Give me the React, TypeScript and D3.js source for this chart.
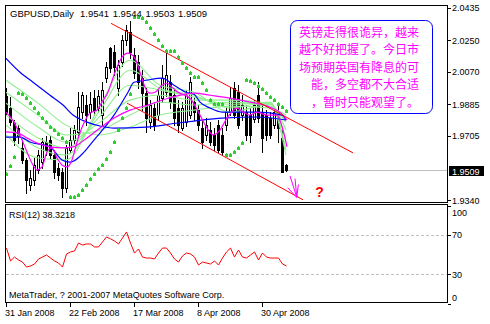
import React from "react";
import * as d3 from "d3";

// ---------- data ----------
const title = "GBPUSD,Daily";
const titleValues = "1.9541 1.9544 1.9503 1.9509";
const dateLabels = ["31 Jan 2008", "22 Feb 2008", "17 Mar 2008", "8 Apr 2008", "30 Apr 2008"];
const dateIdx = [0, 16, 32, 48, 64];
const priceTicks = [2.0435, 2.025, 2.007, 1.9885, 1.9705, 1.934];
const bidPrice = 1.9509;
const rsiTicks = [100, 70, 30, 0];
const rsiLevels = [70, 30];

const opens = [1.9930, 1.9862, 1.9783, 1.9749, 1.9635, 1.9567, 1.9425, 1.9454, 1.9510, 1.9556, 1.9669, 1.9680, 1.9595, 1.9522, 1.9499, 1.9408, 1.9624, 1.9680, 1.9726, 1.9839, 1.9879, 1.9839, 1.9918, 1.9862, 1.9822, 2.0032, 2.0202, 2.0180, 1.9975, 2.0123, 2.0248, 2.0293, 2.0163, 2.0123, 2.0032, 1.9947, 1.9783, 1.9862, 1.9822, 1.9918, 1.9953, 2.0010, 1.9936, 1.9862, 1.9749, 1.9783, 1.9822, 1.9896, 1.9851, 1.9749, 1.9709, 1.9737, 1.9709, 1.9766, 1.9709, 1.9766, 1.9839, 1.9975, 1.9953, 1.9822, 1.9839, 1.9822, 1.9799, 1.9936, 1.9839, 1.9822, 1.9805, 1.9766, 1.9839, 1.9692, 1.9541];
const highs = [1.9975, 1.9924, 1.9794, 1.9766, 1.9680, 1.9578, 1.9510, 1.9578, 1.9624, 1.9692, 1.9703, 1.9703, 1.9624, 1.9550, 1.9522, 1.9652, 1.9749, 1.9766, 1.9953, 1.9953, 1.9936, 1.9953, 1.9964, 1.9964, 2.0010, 2.0123, 2.0208, 2.0219, 2.0134, 2.0276, 2.0333, 2.0361, 2.0202, 2.0163, 2.0078, 1.9975, 1.9907, 1.9896, 1.9964, 2.0106, 2.0180, 2.0049, 1.9964, 1.9907, 1.9896, 1.9964, 2.0038, 1.9918, 1.9879, 1.9794, 1.9805, 1.9783, 1.9749, 1.9794, 1.9749, 1.9862, 1.9981, 2.0010, 1.9992, 1.9936, 1.9879, 1.9862, 1.9907, 2.0010, 1.9879, 1.9851, 1.9839, 1.9862, 1.9879, 1.9737, 1.9544];
const lows = [1.9822, 1.9766, 1.9652, 1.9663, 1.9550, 1.9380, 1.9397, 1.9425, 1.9493, 1.9522, 1.9595, 1.9578, 1.9465, 1.9454, 1.9357, 1.9385, 1.9612, 1.9663, 1.9709, 1.9805, 1.9766, 1.9805, 1.9822, 1.9839, 1.9766, 2.0010, 2.0066, 2.0049, 1.9936, 2.0100, 2.0219, 2.0146, 2.0032, 1.9975, 1.9851, 1.9726, 1.9749, 1.9737, 1.9794, 1.9896, 1.9930, 1.9862, 1.9766, 1.9726, 1.9737, 1.9760, 1.9805, 1.9794, 1.9737, 1.9635, 1.9680, 1.9652, 1.9624, 1.9612, 1.9595, 1.9737, 1.9822, 1.9805, 1.9749, 1.9794, 1.9680, 1.9669, 1.9783, 1.9783, 1.9612, 1.9680, 1.9692, 1.9749, 1.9669, 1.9499, 1.9503];
const closes = [1.9839, 1.9783, 1.9680, 1.9703, 1.9567, 1.9454, 1.9465, 1.9539, 1.9595, 1.9669, 1.9624, 1.9595, 1.9499, 1.9482, 1.9408, 1.9635, 1.9680, 1.9737, 1.9868, 1.9936, 1.9822, 1.9885, 1.9851, 1.9930, 1.9964, 2.0095, 2.0089, 2.0095, 2.0106, 2.0248, 2.0305, 2.0180, 2.0061, 2.0010, 1.9947, 1.9805, 1.9879, 1.9766, 1.9936, 2.0032, 2.0049, 1.9896, 1.9805, 1.9766, 1.9862, 1.9936, 2.0010, 1.9839, 1.9766, 1.9669, 1.9766, 1.9669, 1.9652, 1.9624, 1.9612, 1.9839, 1.9918, 1.9822, 1.9766, 1.9879, 1.9709, 1.9709, 1.9879, 1.9805, 1.9692, 1.9709, 1.9709, 1.9839, 1.9749, 1.9499, 1.9509];

const sar = [1.9488, 1.9534, 1.9585, 1.9948, 1.9942, 1.9919, 1.9891, 1.9863, 1.9834, 1.9806, 1.9783, 1.9755, 1.9738, 1.9715, 1.9693, 1.9670, 1.9358, 1.9358, 1.9369, 1.9398, 1.9426, 1.9460, 1.9488, 1.9517, 1.9539, 1.9573, 1.9613, 1.9670, 1.9738, 1.9806, 1.9863, 1.9942, 2.0379, 2.0379, 2.0373, 2.0350, 2.0316, 2.0282, 2.0248, 2.0214, 2.0186, 2.0186, 2.0186, 2.0152, 2.0118, 2.0090, 2.0061, 2.0038, 2.0038, 2.0004, 1.9965, 1.9908, 1.9885, 1.9885, 1.9885, 1.9596, 1.9596, 1.9613, 1.9636, 1.9664, 2.0021, 2.0016, 2.0004, 1.9987, 1.9970, 1.9948, 1.9925, 1.9908, 1.9885, 1.9868, 1.9846];

const rsi = [56.6, 43.4, 47.4, 44.4, 42.3, 37.2, 38.3, 40.3, 45.4, 47.4, 49.5, 46.4, 43.4, 41.3, 37.2, 50.5, 52.6, 53.6, 61.7, 59.7, 60.7, 60.7, 57.7, 57.7, 62.8, 67.9, 66.0, 63.8, 60.7, 66.8, 73.0, 61.7, 51.5, 55.6, 47.4, 46.4, 46.4, 45.4, 51.5, 56.6, 56.6, 51.5, 45.4, 42.3, 48.5, 51.5, 50.5, 47.4, 39.3, 42.3, 41.3, 40.3, 43.4, 39.3, 46.4, 52.6, 56.6, 47.4, 54.6, 47.4, 46.4, 49.5, 52.6, 44.4, 51.5, 47.4, 46.4, 46.4, 46.4, 40.3, 38.3];

type Pt = [number, number];
const blueSlow: Pt[] = [[0, 2.0146], [3.5, 2.0067], [6.75, 2.0010], [11, 1.9936], [14.25, 1.9880], [16.75, 1.9823], [20.25, 1.9783], [23.5, 1.9761], [27, 1.9749], [35, 1.9755], [43, 1.9778], [47, 1.9789], [54, 1.9806], [63, 1.9812], [70, 1.9795]];
const blueMid: Pt[] = [[0, 1.9698], [3.5, 1.9698], [6, 1.9670], [11, 1.9642], [14, 1.9568], [16, 1.9556], [20, 1.9625], [22, 1.9681], [23.5, 1.9721], [27, 1.9823], [30.5, 1.9953], [32, 2.0010], [35, 2.0021], [39, 2.0033], [42, 1.9993], [45, 1.9953], [47, 1.9942], [48.5, 1.9897], [51, 1.9863], [54, 1.9840], [63, 1.9840], [69, 1.9823], [70, 1.9795]];
const magentaFast: Pt[] = [[0, 1.9840], [2, 1.9783], [3.5, 1.9710], [5.25, 1.9613], [6.75, 1.9539], [7.75, 1.9511], [9, 1.9528], [10.25, 1.9613], [11.5, 1.9636], [12.75, 1.9579], [14, 1.9539], [15.25, 1.9528], [16.5, 1.9568], [17.75, 1.9670], [19.25, 1.9766], [21, 1.9834], [22.75, 1.9851], [24, 1.9897], [25.5, 1.9953], [27.25, 2.0067], [29, 2.0152], [30.5, 2.0175], [32.25, 2.0146], [33.5, 2.0067], [34.75, 1.9982], [36, 1.9948], [37.25, 1.9953], [39, 1.9993], [40.25, 2.0004], [41.5, 1.9982], [43, 1.9953], [44.75, 1.9936], [46, 1.9919], [48.5, 1.9823], [50.25, 1.9749], [51.75, 1.9710], [53.5, 1.9738], [55.25, 1.9806], [57.75, 1.9863], [59.25, 1.9840], [61, 1.9823], [62.75, 1.9840], [65.25, 1.9823], [67.75, 1.9823], [69.25, 1.9738], [70.25, 1.9642]];
const magentaSlow: Pt[] = [[0, 1.9727], [3, 1.9721], [5.25, 1.9693], [7.75, 1.9664], [11, 1.9642], [14.25, 1.9636], [16.75, 1.9642], [20.25, 1.9693], [23.5, 1.9749], [27, 1.9806], [31, 1.9851], [35.5, 1.9880], [40.5, 1.9919], [47.25, 1.9948], [51, 1.9936], [56, 1.9919], [61, 1.9897], [66, 1.9868], [69.25, 1.9823], [70.25, 1.9795]];
const green1: Pt[] = [[0, 2.0021], [8, 1.9891], [15, 1.9766], [23.5, 1.9710], [31, 1.9755], [38.5, 1.9823], [47, 1.9851], [56, 1.9874], [66, 1.9863], [70, 1.9823]];
const green2: Pt[] = [[0, 1.9953], [8, 1.9823], [15, 1.9710], [23.5, 1.9738], [31, 1.9823], [38.5, 1.9897], [47, 1.9880], [56, 1.9897], [66, 1.9874], [70, 1.9783]];
const green3: Pt[] = [[0, 1.9891], [8, 1.9755], [15, 1.9670], [23.5, 1.9783], [31, 1.9908], [38.5, 1.9936], [47, 1.9908], [56, 1.9908], [66, 1.9885], [70, 1.9738]];
const green4: Pt[] = [[0, 1.9823], [8, 1.9693], [15, 1.9636], [23.5, 1.9817], [31, 1.9993], [38.5, 1.9965], [47, 1.9925], [56, 1.9885], [66, 1.9891], [70, 1.9681]];
const green5: Pt[] = [[0, 1.9766], [8, 1.9636], [15, 1.9596], [23.5, 1.9851], [31, 2.0078], [38.5, 1.9976], [47, 1.9936], [56, 1.9863], [66, 1.9897], [70, 1.9625]];
const green6: Pt[] = [[0, 1.9710], [8, 1.9579], [15, 1.9568], [23.5, 1.9880], [31, 2.0135], [38.5, 1.9993], [47, 1.9953], [56, 1.9840], [66, 1.9885], [70, 1.9596]];

const channelUpper: Pt[] = [[26.25, 2.0345], [86.75, 1.9608]];
const channelLower: Pt[] = [[30.25, 1.9891], [74.25, 1.9341]];
const arrowTip: Pt = [72.7, 1.9355];
const arrowTails: Pt[] = [[71, 1.9477], [72.25, 1.9462], [73.1, 1.9428], [70.4, 1.9410]];
const questionAt: Pt = [77.3, 1.9358];

const noteLines = ["英镑走得很诡异，越来", "越不好把握了。今日市", "场预期英国有降息的可", "能，多空都不大合适", "，暂时只能观望了。"];
const rsiTitle = "RSI(12) 38.3218";
const copyright = "MetaTrader, ? 2001-2007 MetaQuotes Software Corp.";

// ---------- chart ----------
const FONT = "'Liberation Sans', Arial, sans-serif";

export default function App() {
  const n = closes.length;
  const x = d3.scaleLinear().domain([0, 70]).range([6, 286]);
  const y = d3.scaleLinear().domain([1.934, 2.0435]).range([200, 7.5]);
  const ry = d3.scaleLinear().domain([0, 100]).range([303.5, 205.5]);

  const smooth = d3.line<Pt>().x(d => x(d[0])).y(d => y(d[1])).curve(d3.curveMonotoneX);
  const straight = d3.line<Pt>().x(d => x(d[0])).y(d => y(d[1]));
  const rsiLine = d3.line<number>().x((_, i) => x(i) + 0.5).y(d => ry(d));

  const greens = [green1, green2, green3, green4, green5, green6];

  const candles = d3.range(n).map(i => {
    const cx = Math.round(x(i));
    const o = opens[i], c = closes[i];
    const top = Math.round(y(Math.max(o, c)));
    const bot = Math.round(y(Math.min(o, c)));
    const bull = c >= o;
    return (
      <g key={i}>
        <line x1={cx + 0.5} x2={cx + 0.5} y1={Math.round(y(highs[i]))} y2={Math.round(y(lows[i])) + 1} stroke="#000" strokeWidth={1} />
        {bull ? (
          <rect x={cx - 0.5} y={top + 0.5} width={2} height={Math.max(0, bot - top)} fill="#fff" stroke="#000" strokeWidth={1} />
        ) : (
          <rect x={cx - 1} y={top} width={3} height={Math.max(1, bot - top + 1)} fill="#000" />
        )}
      </g>
    );
  });

  return (
    <svg width={490} height={324} style={{ position: "absolute", left: 0, top: 0, background: "#fff" }} shapeRendering="crispEdges">
      <defs>
        <clipPath id="mainClip">
          <rect x={6} y={6} width={441} height={196} />
        </clipPath>
        <clipPath id="rsiClip">
          <rect x={6} y={205} width={441} height={97} />
        </clipPath>
      </defs>
      <rect x={0} y={0} width={490} height={324} fill="#fff" />

      {/* main panel */}
      <g clipPath="url(#mainClip)">
        <line x1={5} x2={448} y1={Math.round(y(bidPrice)) + 0.5} y2={Math.round(y(bidPrice)) + 0.5} stroke="#c0c0c0" />
        {candles}
        <g fill="none" shapeRendering="auto">
          {greens.map((g, k) => (
            <path key={k} d={smooth(g) || ""} stroke="#90ee90" strokeWidth={1.1} />
          ))}
          <path d={smooth(blueSlow) || ""} stroke="#0000ff" strokeWidth={1.2} />
          <path d={smooth(blueMid) || ""} stroke="#0000ff" strokeWidth={1.2} />
          <path d={smooth(magentaSlow) || ""} stroke="#ff00ff" strokeWidth={1.2} />
          <path d={smooth(magentaFast) || ""} stroke="#ff00ff" strokeWidth={1.2} />
          <path d={straight(channelUpper) || ""} stroke="#ff0000" strokeWidth={1} />
          <path d={straight(channelLower) || ""} stroke="#ff0000" strokeWidth={1} />
          {arrowTails.map((t, k) => (
            <path key={k} d={straight([t, arrowTip]) || ""} stroke="#ff00ff" strokeWidth={1} />
          ))}
        </g>
        {sar.map((s, i) => (
          <g key={i}>
            <rect x={Math.round(x(i)) - 1} y={Math.round(y(s)) - 1} width={3} height={3} fill="#33cc33" />
            <rect x={Math.round(x(i))} y={Math.round(y(s)) - 2} width={1} height={1} fill="#33cc33" />
          </g>
        ))}
        <text x={x(questionAt[0])} y={y(questionAt[1])} fill="#ff0000" fontFamily={FONT} fontWeight="bold" fontSize={14}>?</text>
      </g>

      {/* callout */}
      <rect x={290.5} y={20.5} width={142} height={93} rx={7} ry={7} fill="#fff" stroke="#0000ff" strokeWidth={1} shapeRendering="auto" />
      {noteLines.map((t, k) => (
        <text key={k} x={419} y={37 + k * 17.4} textAnchor="end" fill="#ff00ff" fontSize={12} fontFamily="'Noto Sans CJK SC', sans-serif">{t}</text>
      ))}

      {/* title */}
      <text x={10} y={17} fontSize={9.5} fontFamily={FONT} fill="#000">{title}</text>
      <text x={80} y={17} fontSize={9.5} fontFamily={FONT} fill="#000" style={{ wordSpacing: "1px" }}>{titleValues}</text>

      {/* panel borders */}
      <rect x={5.5} y={5.5} width={442} height={197} fill="none" stroke="#000" />
      <rect x={5.5} y={204.5} width={442} height={98} fill="none" stroke="#000" />

      {/* price axis */}
      {priceTicks.map((p, k) => (
        <g key={k}>
          <line x1={448} x2={451} y1={Math.round(y(p)) + 0.5} y2={Math.round(y(p)) + 0.5} stroke="#000" />
          <text x={452} y={y(p) + 3.5} fontSize={9} fontFamily={FONT} fill="#000">{p.toFixed(4)}</text>
        </g>
      ))}
      <rect x={449} y={166} width={35} height={10} fill="#000" />
      <text x={452} y={174.5} fontSize={9} fontFamily={FONT} fill="#fff">{bidPrice.toFixed(4)}</text>

      {/* RSI panel */}
      <g clipPath="url(#rsiClip)">
        {rsiLevels.map((lv, k) => (
          <line key={k} x1={6} x2={447} y1={Math.round(ry(lv)) + 0.5} y2={Math.round(ry(lv)) + 0.5} stroke="#c0c0c0" strokeDasharray="3,2" />
        ))}
        <path d={rsiLine(rsi) || ""} fill="none" stroke="#ff0000" strokeWidth={1} shapeRendering="auto" />
      </g>
      <text x={9} y={218} fontSize={9} fontFamily={FONT} fill="#000">{rsiTitle}</text>
      <text x={9} y={298} fontSize={9} fontFamily={FONT} fill="#000">{copyright}</text>
      {rsiTicks.map((v, k) => {
        const ty = v === 100 ? 212.5 : v === 0 ? 297 : ry(v);
        return (
          <g key={k}>
            <line x1={448} x2={451} y1={Math.round(ry(v)) + 0.5} y2={Math.round(ry(v)) + 0.5} stroke="#000" />
            <text x={452} y={ty + 3.5} fontSize={9} fontFamily={FONT} fill="#000">{v}</text>
          </g>
        );
      })}

      {/* time axis */}
      {dateIdx.map((di, k) => (
        <g key={k}>
          <line x1={Math.round(x(di)) + 0.5} x2={Math.round(x(di)) + 0.5} y1={303} y2={307} stroke="#000" />
          <text x={x(di) - 1} y={315.5} fontSize={9} fontFamily={FONT} fill="#000">{dateLabels[k]}</text>
        </g>
      ))}
    </svg>
  );
}
